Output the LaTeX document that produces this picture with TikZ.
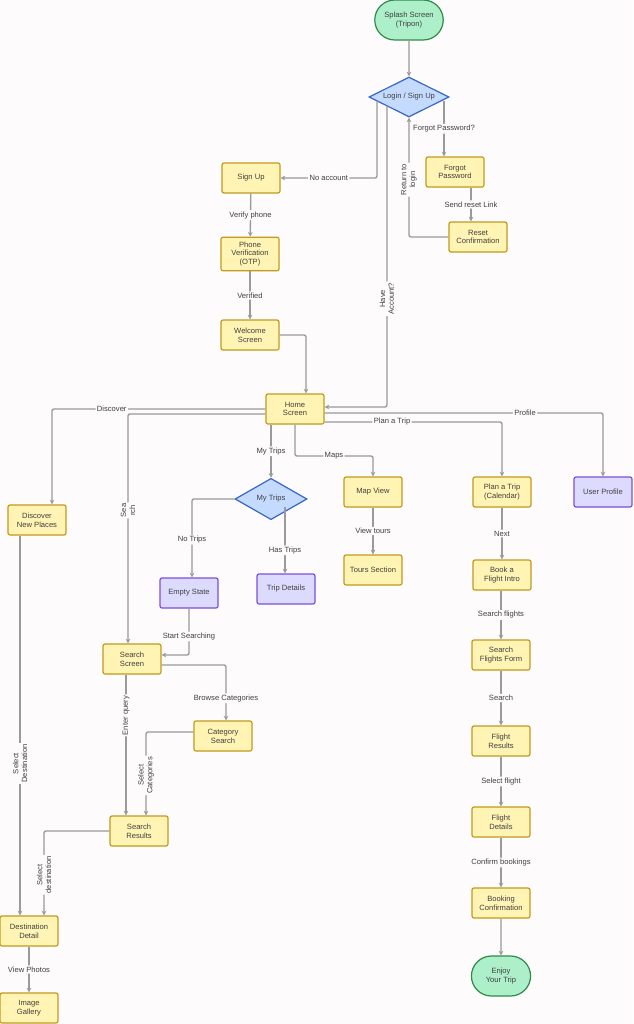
\documentclass[tikz,border=0pt]{standalone}
\usepackage{fontspec}
\setmainfont{Liberation Sans}
\usetikzlibrary{arrows.meta,shapes.geometric,shapes.misc}
\definecolor{BgClr}{HTML}{FDFBFB}
\definecolor{BoxClr}{HTML}{FFF4B3}
\definecolor{BoxLine}{HTML}{C29A1E}
\definecolor{PurClr}{HTML}{DCDAFD}
\definecolor{PurLine}{HTML}{7A4FE0}
\definecolor{DecClr}{HTML}{C4DBFF}
\definecolor{DecLine}{HTML}{3766C8}
\definecolor{EndClr}{HTML}{ADEFC8}
\definecolor{EndLine}{HTML}{2E8B4A}
\definecolor{EdgeClr}{HTML}{9A9A9A}

\tikzset{
  screen/.style={draw=BoxLine,fill=BoxClr,line width=0.9pt,rounded corners=1.5pt,
    minimum width=43.5pt,minimum height=22.5pt,align=center,font=\fontsize{5.7}{6.6}\selectfont,text=black!75},
  state/.style={screen,draw=PurLine,fill=PurClr},
  choice/.style={diamond,aspect=2,draw=DecLine,fill=DecClr,line width=0.9pt,inner sep=0.5pt,
    minimum width=60pt,minimum height=30pt,font=\fontsize{5.7}{6.6}\selectfont,text=black!75},
  term/.style={rounded rectangle,draw=EndLine,fill=EndClr,line width=0.9pt,
    minimum width=58pt,minimum height=30pt,align=center,font=\fontsize{5.7}{6.6}\selectfont,text=black!75},
  flow/.style={draw=EdgeClr,line width=1pt,-{Stealth[length=3.5pt,width=3.5pt]},rounded corners=1.5pt},
  lbl/.style={fill=BgClr,inner sep=1pt,align=center,font=\fontsize{5.7}{6.6}\selectfont,text=black!75},
}

\begin{document}
\begin{tikzpicture}[x=0.75pt,y=-0.75pt]
\fill[BgClr] (0,0) rectangle (633,1024);
\useasboundingbox (0,0) rectangle (633,1024);

% nodes
\node[term] (splash) at (409,20) {Splash Screen\\(Tripon)};
\node[choice] (login) at (409,97) {Login / Sign Up};
\node[screen] (forgot) at (455,172) {Forgot\\Password};
\node[screen] (reset) at (478,237) {Reset\\Confirmation};
\node[screen] (signup) at (251,178) {Sign Up};
\node[screen] (phone) at (250,254) {Phone\\Verification\\(OTP)};
\node[screen] (welcome) at (250,335) {Welcome\\Screen};
\node[screen] (home) at (295,409) {Home\\Screen};
\node[screen] (discover) at (37,520) {Discover\\New Places};
\node[choice,minimum width=54pt,minimum height=31pt] (mytrips) at (271,499) {My Trips};
\node[state] (empty) at (189,593) {Empty State};
\node[state] (tripdet) at (286,589) {Trip Details};
\node[screen] (mapview) at (373,492) {Map View};
\node[screen] (tours) at (373,570) {Tours Section};
\node[screen] (plan) at (502,492) {Plan a Trip\\(Calendar)};
\node[state] (profile) at (603,492) {User Profile};
\node[screen] (search) at (132,659) {Search\\Screen};
\node[screen] (category) at (223,736) {Category\\Search};
\node[screen] (results) at (139,831) {Search\\Results};
\node[screen] (dest) at (29,931) {Destination\\Detail};
\node[screen] (gallery) at (29,1008) {Image\\Gallery};
\node[screen] (bookintro) at (502,575) {Book a\\Flight Intro};
\node[screen] (form) at (501,655) {Search\\Flights Form};
\node[screen] (fresults) at (501,741) {Flight\\Results};
\node[screen] (fdetails) at (501,822) {Flight\\Details};
\node[screen] (bconf) at (501,903) {Booking\\Confirmation};
\node[term,minimum width=51pt] (enjoy) at (501,976) {Enjoy\\Your Trip};

\coordinate (lgA) at (377,101);
\coordinate (lgB) at (387,106);
\coordinate (lgC) at (444,101);
\coordinate (mtB) at (285,507);

% connectors
\draw[flow] (splash) -- (login);
\draw[flow] (lgA) |- node[lbl,pos=0.75] {No account} (signup);
\draw[flow] (lgB) |- node[lbl,pos=0.32,rotate=90] {Have\\Account?} (home.east |- 0,407);
\draw[flow] (lgC) -- node[lbl,pos=0.5] {Forgot Password?} (forgot.north -| lgC);
\draw[flow] (forgot.south -| 471,0) -- node[lbl] {Send reset Link} (reset.north -| 471,0);
\draw[flow] (reset.west) -| node[lbl,pos=0.74,rotate=90] {Return to\\login} (login.south);
\draw[flow] (signup) -- node[lbl] {Verify phone} (phone);
\draw[flow] (phone) -- node[lbl] {Verified} (welcome);
\draw[flow] (welcome.east) -| (home.north -| 306,0);
\draw[flow] (home.west) -| node[lbl,pos=0.36] {Discover} (discover.north -| 52,0);
\draw[flow] (home.west |- 0,414) -| node[lbl,pos=0.71,rotate=90] {Sea\\rch} (search.north -| 128,0);
\draw[flow] (home.south -| mytrips) -- node[lbl] {My Trips} (mytrips);
\draw[flow] (home.south) |- (334,456) node[lbl] {Maps} -| (mapview);
\draw[flow] (home.east |- 0,422) -| node[lbl,pos=0.19] {Plan a Trip} (plan);
\draw[flow] (home.east |- 0,413) -| node[lbl,pos=0.36] {Profile} (profile);
\draw[flow] (mytrips.west) -| node[lbl,pos=0.76] {No Trips} (empty.north -| 192,0);
\draw[flow] (mtB) -- node[lbl,pos=0.65] {Has Trips} (tripdet.north -| mtB);
\draw[flow] (mapview) -- node[lbl] {View tours} (tours);
\draw[flow] (empty.south) |- node[lbl,pos=0.3] {Start Searching} (search.east |- 0,655);
\draw[flow] (search.east |- 0,665) -| node[lbl,pos=0.8] {Browse Categories} (category.north -| 226,0);
\draw[flow] (search.south -| 126,0) -- node[lbl,pos=0.29,rotate=90] {Enter query} (results.north -| 126,0);
\draw[flow] (category.west |- 0,732) -| node[lbl,pos=0.76,rotate=90] {Select\\Categories} (results.north -| 146,0);
\draw[flow] (results.west) -| node[lbl,pos=0.76,rotate=90] {Select\\destination} (dest.north -| 44,0);
\draw[flow] (discover.south -| 20,0) -- node[lbl,pos=0.6,rotate=90] {Select\\Destination} (dest.north -| 20,0);
\draw[flow] (dest) -- node[lbl] {View Photos} (gallery);
\draw[flow] (plan) -- node[lbl] {Next} (bookintro);
\draw[flow] (bookintro.south -| form) -- node[lbl] {Search flights} (form);
\draw[flow] (form) -- node[lbl] {Search} (fresults);
\draw[flow] (fresults) -- node[lbl] {Select flight} (fdetails);
\draw[flow] (fdetails) -- node[lbl] {Confirm bookings} (bconf);
\draw[flow] (bconf) -- (enjoy);

\end{tikzpicture}
\end{document}
